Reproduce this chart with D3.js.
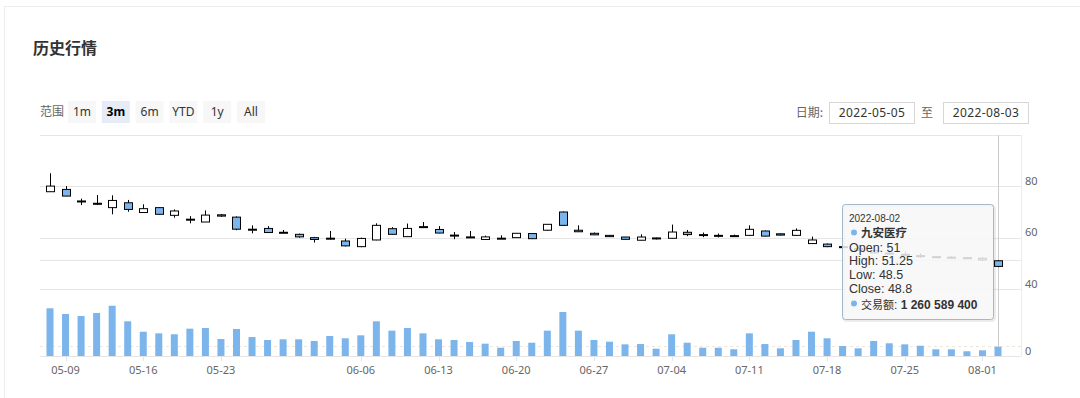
<!DOCTYPE html>
<html><head><meta charset="utf-8">
<script src="https://cdn.jsdelivr.net/npm/d3@7"></script>
<style>
html,body{margin:0;padding:0;background:#fff;}
svg{display:block;font-family:"Noto Sans","Noto Sans CJK SC",sans-serif;}
</style></head><body>
<svg id="c" width="1080" height="398"></svg>
<script>
const dates = [
 "2022-05-06",
 "2022-05-09","2022-05-10","2022-05-11","2022-05-12","2022-05-13",
 "2022-05-16","2022-05-17","2022-05-18","2022-05-19","2022-05-20",
 "2022-05-23","2022-05-24","2022-05-25","2022-05-26","2022-05-27",
 "2022-05-30","2022-05-31","2022-06-01","2022-06-02",
 "2022-06-06","2022-06-07","2022-06-08","2022-06-09","2022-06-10",
 "2022-06-13","2022-06-14","2022-06-15","2022-06-16","2022-06-17",
 "2022-06-20","2022-06-21","2022-06-22","2022-06-23","2022-06-24",
 "2022-06-27","2022-06-28","2022-06-29","2022-06-30","2022-07-01",
 "2022-07-04","2022-07-05","2022-07-06","2022-07-07","2022-07-08",
 "2022-07-11","2022-07-12","2022-07-13","2022-07-14","2022-07-15",
 "2022-07-18","2022-07-19","2022-07-20","2022-07-21","2022-07-22",
 "2022-07-25","2022-07-26","2022-07-27","2022-07-28","2022-07-29",
 "2022-08-01","2022-08-02"];
const opens = [77.9,78.8,74.3,73.4,71.7,73.6,69.8,71.7,68.7,67.2,66.1,68.9,68.0,63.3,63.6,62.1,61.3,60.0,59.8,58.7,56.5,
 59.1,63.5,60.4,64.3,63.2,61.0,60.3,59.3,59.8,60.0,61.6,62.9,70.0,62.9,61.7,60.9,60.25,59.0,59.9,
 59.75,62.1,61.2,60.9,60.6,60.9,62.6,61.5,60.9,57.7,57.5,56.5,55.8,55.0,54.0,53.5,53.0,52.6,52.4,52.2,52.0,51];
const highs = [85.1,80.1,75.2,76.6,76.5,74.7,73.0,71.8,71.0,68.4,70.6,69.2,68.3,64.8,64.5,63.0,61.6,60.3,62.6,59.6,60.0,
 65.6,64.1,65.5,66.1,64.5,62.2,62.6,60.8,60.9,61.8,61.7,65.3,70.2,64.8,62.0,61.0,60.3,61.3,60.0,
 65.1,63.0,62.0,61.6,61.2,64.8,62.8,61.6,63.6,60.4,57.7,56.6,56.6,55.8,55.0,54.6,53.9,52.9,52.7,52.5,52.4,51.25];
const lows = [77.9,76.2,72.7,72.7,69.1,70.1,69.8,69.0,67.8,65.6,66.1,68.1,62.9,61.7,61.9,61.9,60.0,58.1,59.3,56.6,56.3,
 59.0,61.2,60.4,64.0,61.7,59.4,60.0,59.2,59.6,59.9,59.5,62.7,64.7,62.2,61.0,60.3,59.2,58.9,59.3,
 59.7,60.6,60.2,60.1,60.5,60.9,60.5,60.9,60.9,57.6,56.3,56.1,54.9,53.8,53.2,52.8,52.2,52.0,51.9,51.8,51.0,48.5];
const closes = [80.1,76.2,74.0,73.0,74.5,71.0,71.3,69.1,70.4,67.0,68.8,68.4,63.3,63.1,62.0,62.0,60.3,59.3,59.6,56.8,59.7,
 64.8,61.3,63.6,64.1,61.8,60.8,60.1,60.3,59.7,61.7,59.6,65.2,64.8,62.3,61.1,60.4,59.35,60.25,59.5,
 62.2,61.2,60.9,60.7,60.8,63.25,60.6,61.0,62.85,59.1,56.5,56.3,55.2,54.1,53.6,53.2,52.6,52.3,52.2,52.0,51.3,48.8];
const turnover = [6.46e9,5.69e9,5.42e9,5.82e9,6.81e9,4.70e9,3.29e9,3.07e9,2.94e9,3.70e9,3.79e9,2.30e9,3.66e9,2.57e9,2.17e9,2.26e9,2.26e9,2.03e9,2.71e9,2.40e9,2.80e9,
 4.70e9,3.43e9,3.79e9,3.07e9,2.26e9,2.17e9,1.90e9,1.67e9,1.12e9,2.03e9,1.80e9,3.43e9,5.96e9,3.43e9,2.17e9,1.94e9,1.58e9,1.62e9,0.99e9,
 2.94e9,1.80e9,1.12e9,1.12e9,0.91e9,3.07e9,1.62e9,1.04e9,2.17e9,3.29e9,2.40e9,1.35e9,1.04e9,2.03e9,1.72e9,1.58e9,1.39e9,0.91e9,0.91e9,0.64e9,0.77e9,1260589400];
const xTickLabels = ["05-09","05-16","05-23","06-06","06-13","06-20","06-27","07-04","07-11","07-18","07-25","08-01"];
const priceTicks = [40,60,80,100];
const volumeTicks = [0,13e9];
const rangeButtons = ["1m","3m","6m","YTD","1y","All"];
const selectedRange = "3m";
const dateFrom = "2022-05-05", dateTo = "2022-08-03";
const seriesName = "九安医疗";
const hoverDate = "2022-08-02";
const volumeLabel = "交易额";

const svg = d3.select("#c");
const blue = "#7cb5ec";

// card border
svg.append("path").attr("d","M4.5,398 V6.5 H1080").attr("fill","none").attr("stroke","#ececec");

// title
svg.append("text").attr("x",33).attr("y",54).attr("font-size",16).attr("font-weight","bold")
  .attr("fill","#333").attr("font-family","Noto Sans CJK SC").text("历史行情");

// range selector
svg.append("text").attr("x",40).attr("y",116).attr("font-size",12).attr("fill","#666")
  .attr("font-family","Noto Sans CJK SC").text("范围");
const btnX = d3.scalePoint().domain(rangeButtons).range([82,251]);
const btn = svg.append("g").selectAll("g").data(rangeButtons).join("g")
  .attr("transform", d => `translate(${btnX(d)},0)`);
btn.append("rect").attr("x",-14).attr("y",101).attr("width",28).attr("height",22)
  .attr("fill", d => d===selectedRange ? "#e6ebf5" : "#f7f7f7");
btn.append("text").attr("y",116).attr("text-anchor","middle").attr("font-size",12)
  .attr("fill", d => d===selectedRange ? "#000" : "#333")
  .attr("font-weight", d => d===selectedRange ? "bold" : "normal").text(d=>d);

// date inputs
svg.append("text").attr("x",823).attr("y",116.5).attr("text-anchor","end").attr("font-size",12)
  .attr("fill","#666").attr("font-family","Noto Sans CJK SC").text("日期:");
[[829.5,dateFrom],[943.5,dateTo]].forEach(([x0,t])=>{
  svg.append("rect").attr("x",x0).attr("y",102.5).attr("width",85).attr("height",21)
    .attr("fill","#fff").attr("stroke","#d6d6d6");
  svg.append("text").attr("x",x0+42.5).attr("y",117).attr("text-anchor","middle")
    .attr("font-size",12).attr("letter-spacing",0.4).attr("fill","#333").text(t);
});
svg.append("text").attr("x",927).attr("y",116.5).attr("text-anchor","middle").attr("font-size",12)
  .attr("fill","#666").attr("font-family","Noto Sans CJK SC").text("至");

// scales
const x = d3.scalePoint().domain(dates).range([50,998]);
const yP = d3.scaleLinear().domain([40,100]).range([289,135]);
const yV = d3.scaleLinear().domain([0,13e9]).range([356,260]);
const gx0 = 40, gx1 = 1021;

const grid = svg.append("g").attr("stroke","#e6e6e6").attr("stroke-width",1);
priceTicks.forEach(t=>{ const y=Math.round(yP(t))+0.5;
  grid.append("line").attr("x1",gx0).attr("x2",gx1).attr("y1",y).attr("y2",y); });
volumeTicks.forEach(t=>{ const y=Math.round(yV(t))+0.5;
  grid.append("line").attr("x1",gx0).attr("x2",gx1).attr("y1",y).attr("y2",y); });
svg.append("line").attr("x1",gx0).attr("x2",gx1).attr("y1",346.5).attr("y2",346.5)
  .attr("stroke","#ece6dc").attr("stroke-dasharray","3,3");
svg.append("line").attr("x1",gx1+0.5).attr("x2",gx1+0.5).attr("y1",135).attr("y2",356).attr("stroke","#ededed");

// y labels (last label hidden)
priceTicks.slice(0,-1).forEach(t=>{
  svg.append("text").attr("x",1025).attr("y",yP(t)-1.5).attr("font-size",11).attr("fill","#666").text(t);
});
volumeTicks.slice(0,-1).forEach(t=>{
  svg.append("text").attr("x",1025).attr("y",yV(t)-1.5).attr("font-size",11).attr("fill","#666").text(t);
});

// crosshair
svg.append("line").attr("x1",Math.round(x(hoverDate))+0.5).attr("x2",Math.round(x(hoverDate))+0.5)
  .attr("y1",135).attr("y2",356).attr("stroke","#cccccc");

// volume bars
svg.append("g").selectAll("rect").data(dates).join("rect")
  .attr("x", d => x(d)-3.5).attr("width",7)
  .attr("y", (d,i) => yV(turnover[i])).attr("height",(d,i)=> yV(0)-yV(turnover[i]))
  .attr("fill",blue);

// candles
const cg = svg.append("g").selectAll("g").data(dates).join("g");
cg.append("line").attr("x1",d=>Math.round(x(d))+0.5).attr("x2",d=>Math.round(x(d))+0.5)
  .attr("y1",(d,i)=>yP(highs[i])).attr("y2",(d,i)=>yP(lows[i])).attr("stroke","#000");
cg.append("rect").attr("x",d=>Math.round(x(d))-3.5).attr("width",8)
  .attr("y",(d,i)=>yP(Math.max(opens[i],closes[i])))
  .attr("height",(d,i)=>Math.max(1,Math.abs(yP(opens[i])-yP(closes[i]))))
  .attr("fill",(d,i)=> closes[i]>=opens[i] ? "#fff" : blue).attr("stroke","#000");

// x axis labels
const xl = svg.append("g");
dates.forEach(d=>{
  const lab = d.slice(5);
  if (xTickLabels.includes(lab)) {
    xl.append("line").attr("x1",Math.round(x(d))+0.5).attr("x2",Math.round(x(d))+0.5)
      .attr("y1",356).attr("y2",361).attr("stroke","#dfe6f3");
    xl.append("text").attr("x",x(d)).attr("y",374).attr("text-anchor","middle")
      .attr("font-size",11).attr("fill","#666").text(lab);
  }
});

// tooltip
const hi = dates.indexOf(hoverDate);
const fmtV = v => d3.format(",")(v).replace(/,/g," ");
const tt = svg.append("g");
tt.append("rect").attr("x",843.5).attr("y",205.5).attr("width",151).attr("height",115).attr("rx",3)
  .attr("fill","none").attr("stroke","rgba(0,0,0,0.08)").attr("stroke-width",3);
tt.append("rect").attr("x",842.5).attr("y",204.5).attr("width",151).attr("height",115).attr("rx",3)
  .attr("fill","rgba(247,247,247,0.85)").attr("stroke","#a4b8cc");
const ttFont = "Liberation Sans";
tt.append("text").attr("x",849).attr("y",222).attr("font-size",10).attr("font-family",ttFont)
  .attr("fill","#333").text(hoverDate);
tt.append("circle").attr("cx",854).attr("cy",232.5).attr("r",3).attr("fill",blue);
tt.append("text").attr("x",861).attr("y",237).attr("font-size",11.5).attr("font-weight","bold")
  .attr("fill","#333").attr("font-family","Noto Sans CJK SC").text(seriesName);
const rows = [["Open",opens[hi]],["High",highs[hi]],["Low",lows[hi]],["Close",closes[hi]]];
rows.forEach((r,k)=>{
  tt.append("text").attr("x",849).attr("y",251.5+k*13.8).attr("font-size",12.5).attr("font-family",ttFont)
    .attr("fill","#333").text(`${r[0]}: ${r[1]}`);
});
tt.append("circle").attr("cx",854).attr("cy",303.5).attr("r",3).attr("fill",blue);
const vt = tt.append("text").attr("x",861).attr("y",308.5).attr("font-size",12).attr("font-family",ttFont).attr("fill","#333");
vt.append("tspan").attr("font-family","Noto Sans CJK SC").attr("font-size",11).text(volumeLabel);
vt.append("tspan").text(": ");
vt.append("tspan").attr("font-weight","bold").text(fmtV(turnover[hi]));
</script>
</body></html>
